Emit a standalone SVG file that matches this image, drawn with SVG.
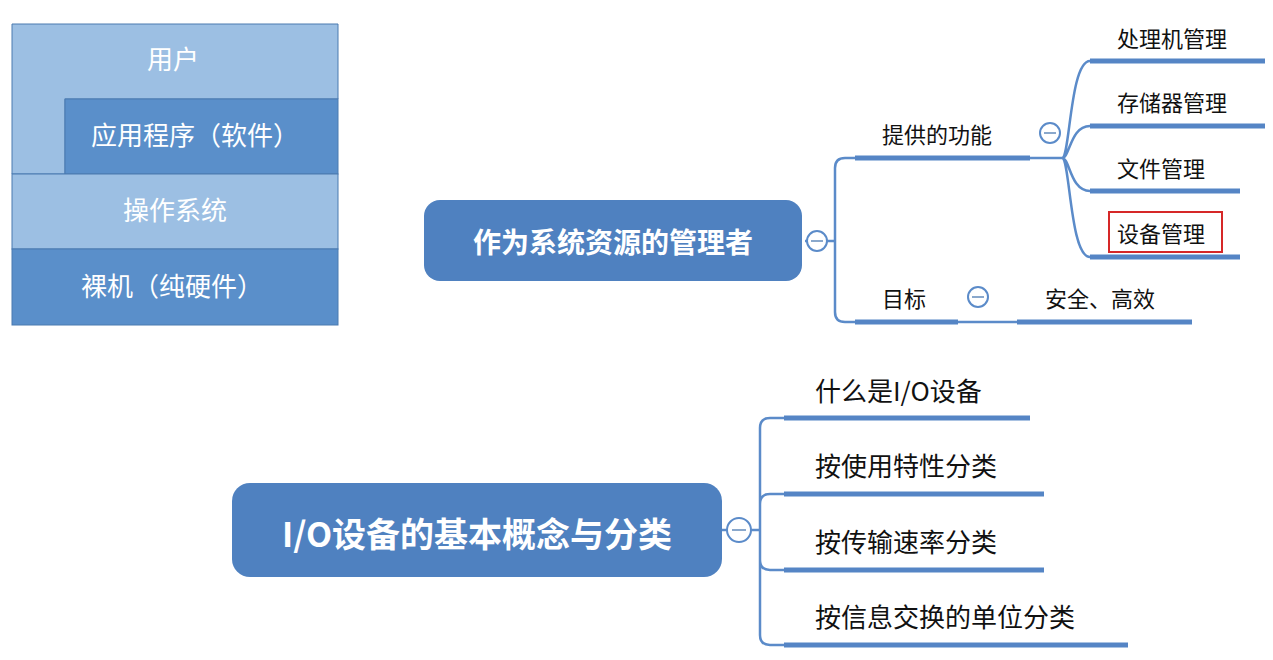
<svg xmlns="http://www.w3.org/2000/svg" width="1273" height="660" viewBox="0 0 1273 660">
<style>
text{font-family:"Noto Sans CJK SC","Liberation Sans",sans-serif}
.lt{fill:#9cbfe3;stroke:#4a7ab0;stroke-width:1}
.dk{fill:#5a8fca;stroke:#4a7ab0;stroke-width:1}
.st{font-size:26px;fill:#fff;text-anchor:middle}
.ln{fill:none;stroke:#5b8bc9;stroke-width:2.5}
.ul{stroke:#5585c5;stroke-width:5}
.c{fill:#fff;stroke:#5b8bc9;stroke-width:2}
.cm{stroke:#8aa8cc;stroke-width:2}
.t{font-size:22px;fill:#111}
.tb{font-size:26px;fill:#111}
.root{fill:#4f81c0}
.rt{fill:#fff;font-weight:bold;text-anchor:middle}
</style>
<g id="stack">
<path class="lt" d="M12 24 H338 V99 H65 V174 H12 Z"/>
<text class="st" x="173" y="69">用户</text>
<rect class="dk" x="65" y="99" width="273" height="75"/>
<text class="st" x="195" y="145">应用程序（软件）</text>
<rect class="lt" x="12" y="174" width="326" height="75"/>
<text class="st" x="175" y="220">操作系统</text>
<rect class="dk" x="12" y="249" width="326" height="76"/>
<text class="st" x="172" y="296">裸机（纯硬件）</text>
</g>
<g id="connectors">
<path class="ln" d="M805 241 H835 M855 158 H845 Q835 158 835 168 V312 Q835 322 845 322 H855"/>
<path class="ln" d="M1030 158 H1062 M1062 158 C1070 158 1070 61 1090 61 M1062 158 C1070 158 1070 126 1090 126 M1062 158 C1070 158 1070 191 1090 191 M1062 158 C1070 158 1070 257 1090 257"/>
<path class="ln" d="M958 322 H1017"/>
<path class="ln" d="M722 530 H760 M784 418 H770 Q760 418 760 428 V635 Q760 645 770 645 H784 M760 504 Q760 494 770 494 H784 M760 560 Q760 570 770 570 H784"/>
</g>
<g id="root1">
<rect class="root" x="424" y="200" width="378" height="81" rx="16"/>
<text class="rt" x="613" y="253" font-size="28">作为系统资源的管理者</text>
<circle class="c" cx="817" cy="241" r="10"/><line class="cm" x1="811" y1="241" x2="823" y2="241"/>
</g>
<g id="n-func">
<line class="ul" x1="855" y1="158" x2="1030" y2="158"/>
<text class="t" x="882" y="143">提供的功能</text>
<circle class="c" cx="1050" cy="133" r="10"/><line class="cm" x1="1044" y1="133" x2="1056" y2="133"/>
</g>
<g id="n-cpu"><line class="ul" x1="1090" y1="61" x2="1265" y2="61"/><text class="t" x="1117" y="47">处理机管理</text></g>
<g id="n-mem"><line class="ul" x1="1090" y1="126" x2="1265" y2="126"/><text class="t" x="1117" y="111">存储器管理</text></g>
<g id="n-file"><line class="ul" x1="1090" y1="191" x2="1240" y2="191"/><text class="t" x="1117" y="177">文件管理</text></g>
<g id="n-dev"><line class="ul" x1="1090" y1="257" x2="1240" y2="257"/><rect x="1109" y="212" width="113" height="40" fill="none" stroke="#d62828" stroke-width="2"/><text class="t" x="1117" y="242">设备管理</text></g>
<g id="n-goal">
<line class="ul" x1="855" y1="322" x2="958" y2="322"/>
<text class="t" x="882" y="307">目标</text>
<circle class="c" cx="978" cy="297" r="10"/><line class="cm" x1="972" y1="297" x2="984" y2="297"/>
</g>
<g id="n-safe"><line class="ul" x1="1017" y1="322" x2="1192" y2="322"/><text class="t" x="1045" y="307">安全、高效</text></g>
<g id="root2">
<rect class="root" x="232" y="483" width="490" height="94" rx="18"/>
<text class="rt" x="477" y="547" font-size="34">I/O设备的基本概念与分类</text>
<circle class="c" cx="739" cy="530" r="12"/><line class="cm" x1="732" y1="530" x2="746" y2="530"/>
</g>
<g id="b1"><line class="ul" x1="784" y1="418" x2="1030" y2="418"/><text class="tb" x="815" y="401">什么是I/O设备</text></g>
<g id="b2"><line class="ul" x1="784" y1="494" x2="1044" y2="494"/><text class="tb" x="815" y="476">按使用特性分类</text></g>
<g id="b3"><line class="ul" x1="784" y1="570" x2="1044" y2="570"/><text class="tb" x="815" y="552">按传输速率分类</text></g>
<g id="b4"><line class="ul" x1="784" y1="645" x2="1128" y2="645"/><text class="tb" x="815" y="627">按信息交换的单位分类</text></g>
</svg>
